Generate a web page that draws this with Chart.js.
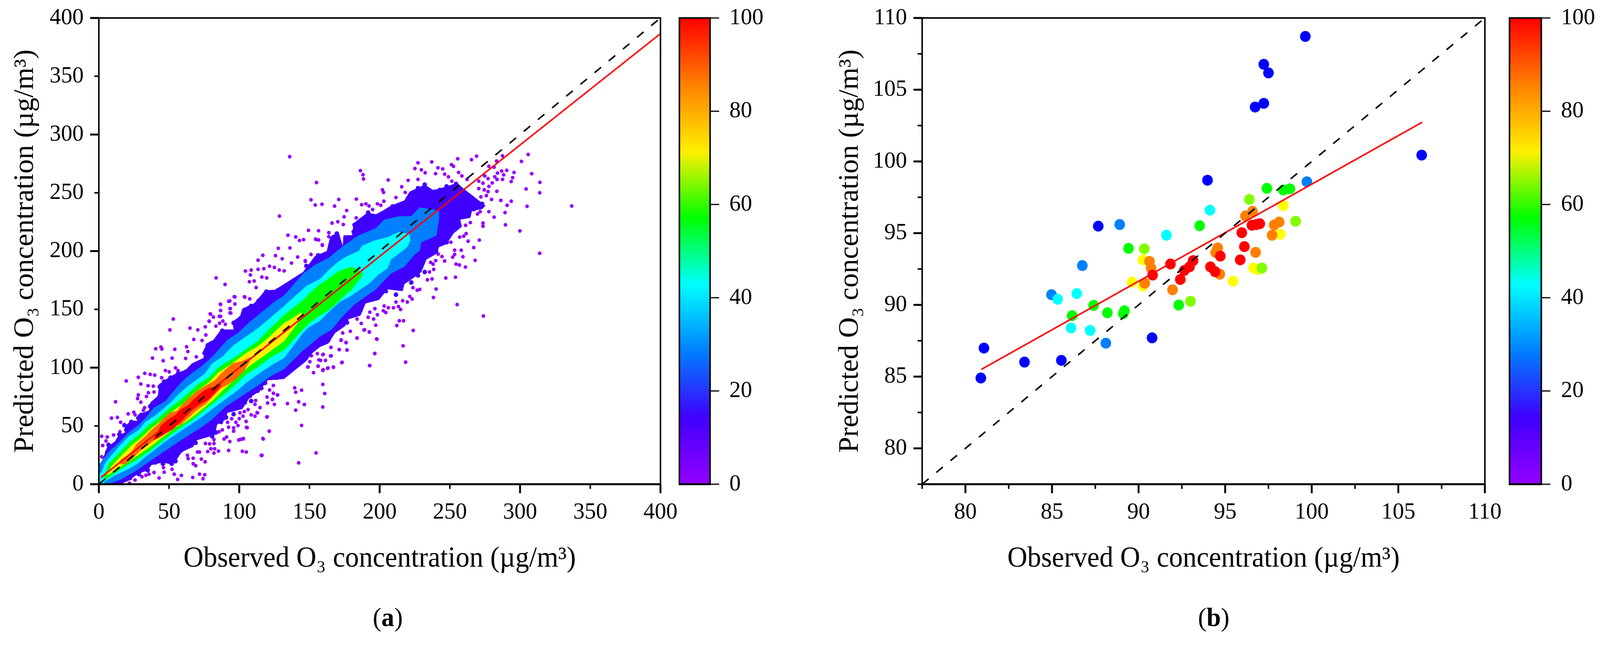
<!DOCTYPE html>
<html>
<head>
<meta charset="utf-8">
<script src="https://cdn.jsdelivr.net/npm/chart.js@4/dist/chart.umd.min.js"></script>
<style>
  html, body { margin: 0; padding: 0; background: #fff; overflow: hidden; }
  #page { position: relative; width: 4225px; height: 1653px; overflow: hidden; transform-origin: 0 0; }
  canvas { position: absolute; }
  .panel { position: absolute; top: 1540px; width: 200px; text-align: center;
           font: 68px "Liberation Serif", serif; color: #000; }
</style>
</head>
<body>
<div id="page">
  <canvas id="chartA" width="1790" height="1653" style="left:0;top:0"></canvas>
  <canvas id="barA" width="280" height="1653" style="left:1780px;top:0"></canvas>
  <canvas id="chartB" width="1990" height="1653" style="left:1975px;top:0"></canvas>
  <canvas id="barB" width="255" height="1653" style="left:3970px;top:0"></canvas>
  <div class="panel" style="left:924px">(<b>a</b>)</div>
  <div class="panel" style="left:3105px">(<b>b</b>)</div>
</div>
<script>
// window can come up narrower than the 4225 wide layout, squeeze to fit
document.getElementById('page').style.transform = 'scale(' + Math.min(1, innerWidth / 4225) + ',' + Math.min(1, innerHeight / 1653) + ')';

// ---- colour bar
const cbarStops = [0, 14.3, 28.6, 42.9, 57.1, 71.4, 85.7, 100];
const cbarColors = ['#9400ff', '#4000ff', '#0080ff', '#00ffff', '#00ff00', '#fff000', '#ff8000', '#ff0000'];
const cbarTicks = [0, 20, 40, 60, 80, 100];

// ---- panel a: density regions, [observed, predicted]
const bandIndigo = [[0,17],[1.5,17.6],[6,32.1],[11.4,36.6],[14.1,42.2],[18.6,44.4],[18.6,50],[23.1,54.5],[27.6,54.5],[27.6,59.5],[35.7,63.4],[36.6,70.1],[42,75.7],[42.9,85.8],[51,92.5],[56.4,95.9],[61.8,98.1],[66.3,103.7],[74.4,108.2],[76.2,120.5],[81.6,123.8],[87,132.8],[96,132.8],[95,139.5],[100.5,144],[102.2,150.7],[110.4,155.1],[113,158.5],[118.4,166.3],[125.6,166.9],[145.4,182.1],[153.8,195.6],[162.3,200.1],[164.7,212],[170.7,216.6],[173.7,204.6],[174.3,213.6],[180.3,213.6],[181.5,224],[191.2,233],[197.2,231.5],[202,234.5],[208,239],[217.6,243.5],[221.3,251],[232.1,257],[238.1,252.5],[241.7,253.3],[247.7,255.5],[255,258.5],[261,252.5],[265.8,248],[270.6,243.5],[275.4,239],[273,236],[265.8,234.5],[264.6,228.5],[257.4,227],[258.6,221],[252.6,215],[247.7,206],[241.7,203],[241.7,198.6],[233.3,192.6],[229.7,182.1],[224.9,177.6],[217.6,171.6],[216.4,165.6],[205.6,167.1],[199.6,158.1],[190,155.1],[186.3,144.6],[177.9,141.6],[175.5,135.7],[168.3,129.7],[163.5,120.7],[157.4,117.7],[151.4,111.7],[147.8,105.7],[131.9,90.3],[120.2,89.1],[113.9,79.1],[107.6,74.6],[102.2,64.5],[91.5,61.2],[90.6,55.6],[84.3,51.1],[82.5,42.2],[69.9,37.7],[67.2,32.1],[59.1,27.6],[52.8,16.4],[45.6,18.7],[37.5,16.4],[34.8,12],[27.6,8.6],[21.3,3],[15,0],[0,0]];
const bandAzure = [[0,15],[0.6,17.6],[3.3,22],[6.9,27.6],[15,36.6],[21.3,44.4],[28.5,51.1],[33,56.7],[39.3,65.7],[47.4,71.3],[51,76.8],[58.2,86.9],[64.5,93.6],[73.5,101.5],[80.7,109.3],[91.5,123.8],[98.7,129.4],[107.6,139.5],[115.7,147.3],[124.7,156.3],[131.9,161.9],[145.4,180.6],[153.8,188.1],[163.5,194.1],[174.3,204.6],[185.1,213.6],[197.2,219.6],[203.2,227],[214,230],[222.5,230],[228.5,237.5],[236.9,236],[242.3,234.5],[242.3,227],[240.5,213.6],[238.1,212],[229.7,207.6],[228.5,200],[224.9,197],[217.6,186.6],[208,180.6],[203.2,174.6],[197.2,167],[190,161],[181.5,153.6],[173.1,143.2],[165.9,132.7],[157.4,126.7],[150.2,119.2],[145.4,114.7],[131.9,98.7],[122.9,93],[113.9,85.2],[107.6,80.2],[97.8,72.4],[90.6,66.8],[80.7,55.6],[71.7,47.8],[62.7,41],[52.8,33.2],[42,24.3],[33,17],[25.8,10.9],[15.9,4.1],[6.9,0],[0,0]];
const bandCyan = [[0,8],[2,10.9],[4.7,18.7],[8.7,24.3],[14.1,32.1],[21.3,41.1],[28.5,46.6],[33,53.4],[40.2,59],[45.6,64.5],[51,70.1],[56.4,76.8],[62.7,83.6],[69,89.1],[75.3,94.7],[80.7,103.7],[87.9,109.3],[96,119.4],[104,126.1],[112.1,132.8],[121.1,141.7],[131.9,152.9],[147.8,170.1],[157.4,176.1],[163.5,183.6],[170.7,191.1],[176.7,195.6],[185.1,200.1],[187.5,204.6],[196,209],[205.6,212],[214,216.6],[221.3,214.3],[221.9,209],[219.4,203],[212.8,197],[208,192.6],[205.6,185.1],[198.4,179.1],[193.6,173.1],[186.3,167.1],[179.1,161.1],[171.9,156.6],[163.5,147.6],[157.4,140.1],[149,134.2],[145.4,129.7],[131.9,108.2],[122.9,102],[113.9,94.7],[104.9,86.9],[98.7,80.2],[91.5,74],[83.4,66.8],[74.4,58.4],[65.4,51.1],[58.2,45.5],[47.4,36.6],[42,31.5],[33,23.2],[27.6,17.6],[19.5,12],[11.4,7.5],[5.1,3],[2.4,0],[0,0]];
const bandGreen = [[3.8,6.4],[6.9,17.6],[10.5,22],[15.9,28.7],[22.2,36.6],[29.4,43.3],[34.8,50],[40.2,54.5],[45.6,60.1],[51.9,66.8],[58.2,72.4],[64.5,79.1],[70.8,85.8],[78,91.4],[85.2,100.3],[92.4,105.9],[98.7,110.4],[104.9,116],[113.1,122.7],[120.2,131.7],[131.9,145.1],[145.4,158],[150.2,164.1],[157.4,171.6],[163.5,176.1],[166.5,179.1],[171.9,183.6],[180.3,186.6],[187.5,182.1],[188.1,179.1],[183.9,173.1],[180.3,167.1],[174.3,161.1],[169.5,155.1],[163.5,149.1],[157.4,144.6],[150.2,138.6],[145.4,132.7],[131.9,114.9],[122.9,109.3],[113.1,100.3],[104.9,94.2],[98.7,86.9],[91.5,79.1],[83.4,71.3],[75.3,63.4],[67.2,55.6],[60,50],[51,42.2],[43.8,35.5],[36.6,28.7],[28.5,22],[20.4,16.4],[13.2,10.9],[6.9,5.8],[4.2,3.6]];
const bandYellow = [[5.1,8.6],[10.5,17.6],[16.8,25.4],[23.1,33.2],[30.3,39.9],[36.6,47.2],[42,52.2],[48.3,58.4],[54.6,64.5],[60,69],[66.3,76.8],[72.6,82.4],[78,86.9],[85.2,95.9],[92.4,101.5],[98.7,107],[104.9,112.6],[113.1,118.2],[121.1,126.1],[131.9,138.4],[136,141],[144.4,147.8],[144.4,142.5],[141.6,138],[131.9,122.7],[125.6,117.1],[116.6,109.3],[108.5,102.6],[102.2,95.9],[94.2,86.9],[87,79.1],[81.6,72.4],[76.2,66.8],[68.1,58.9],[61.8,53.4],[54.6,48.9],[51,45.5],[43.8,38.8],[36.6,32.1],[28.5,25.4],[20.4,18.7],[13.2,13.6],[6.9,8.1]];
const bandOrange = [[15.5,20.9],[20.4,24.8],[24,28.7],[26.7,34.3],[33,41.1],[36.6,45.5],[42.9,52.2],[50.1,61.2],[55.5,62.9],[58.2,66.8],[63.6,73.5],[69,79.1],[76.2,84.7],[82.5,89.1],[87.9,95.9],[95.1,103.7],[101.3,105.4],[107.6,108.7],[107.6,105.9],[104,98.1],[97.8,90.3],[92.4,85.8],[87,82.4],[82.5,76.8],[76.2,69],[69,62.9],[63.6,56.7],[58.2,51.1],[54.6,50],[47.4,43.8],[42,39.9],[35.7,34.3],[29.4,28.7],[24,22],[18.6,17],[15.5,17]];
const bandRed = [[38.8,38.8],[42,44.4],[43.8,50],[49.2,55.6],[54.6,59.5],[58.2,64],[63.6,67.9],[68.1,73.5],[73.5,79.1],[78,82.4],[83.4,84.1],[87,86.9],[87,84.1],[83.4,79.1],[78,72.4],[72.6,69],[66.3,63.4],[61.8,57.8],[57.3,52.2],[52.8,47.2],[47.4,43.3],[42.9,39.9],[38.8,37.7]];
// lumps along the rim of the indigo region
const rimIndigo = [[6.9,33.8],[8.3,30.4],[6,27.6],[14.6,42.7],[16.4,41.1],[19.5,46.6],[18.2,50.6],[23.1,53.4],[25.4,51.1],[28.1,56.7],[30.3,59.5],[37.9,67.9],[40.2,70.1],[36.6,66.8],[42.9,74.6],[43.4,83.6],[44.7,80.2],[46.5,88],[51,91.4],[54.6,86.9],[50.1,82.4],[56.4,94.7],[61.8,96.4],[64.5,98.1],[76.2,114.9],[78.4,118.2],[75.3,112.6],[81.6,119.4],[83.4,122.7],[87.9,131.7],[92.4,130.5],[96,138.4],[98.7,135],[101.3,142.8],[104.9,148.4],[108.5,152.9],[113.9,157.4],[119.3,165.2],[122.9,164.1],[127.4,166.3],
[126.5,91.4],[122.9,92.5],[118.4,86.9],[115.7,82.4],[113.1,80.2],[107.6,75.7],[108.5,71.3],[104,70.1],[98.7,65.7],[96,60.1],[90.6,57.3],[87,53.4],[82.5,51.1],[83.4,44.4],[76.2,46.6],[80.7,41.1],[71.7,41],[68.9,35.5],[65.4,33.2],[65.4,38.8],[55.5,31],[58.2,28.7],[53.7,23.2],[54.6,19.8],[51.9,17.6],[44.7,22],[40.2,18.7],[45.6,17.6],[34.8,15.3],[34.8,12],[28.5,8.6],[22.2,5.3],[15.9,1.9],
[147.8,187.3],[156.2,196.3],[164.7,203],[167.1,212],[169.5,215],[175.5,210.6],[181.5,216.6],[182.1,222.5],[191.8,233],[196,230],[200.8,230],[209.2,238.3],[220,245],[227.3,254],[232.1,257],[239.3,251],[242.9,252.5],[247.7,255.5],[254.4,257.7],[257.4,248],[264.6,243.5],[268.2,242],[273,240.5],
[267,236],[261,233],[255,227],[256.2,222.5],[251.4,216.6],[247.7,207.6],[240.5,203],[236.9,200],[229.7,194],[228.5,188],[232.1,182.1],[227.3,179.1],[220,177.6],[222.5,173.1],[214,170.1],[211.6,162.6],[204.4,165.6],[197.2,159.6],[192.4,158.1],[186.3,149.1],[180.3,146.2],[176.7,138.7],[167.1,131.2],[163.5,123.7],[159.8,122.2],[152.6,116.2],[147.8,108.7]];
const outliersA = [[53,141.7],[50.6,132.4],[64.9,133.9],[70.5,132.4],[75.8,135],[79.3,146.2],[81.6,143.4],[86.7,154.2],[86.7,149],[86.7,144],[93.3,157.2],[96.9,160.7],[96.9,154.6],[93.7,150.7],[94,146.8],[104,160.5],[107.5,159],[78.7,139.7],[86,138.1],[88.3,140],[90.1,137.2],[83.4,135.6],[76.2,128],[67.6,124.2],[73.5,123.3],[62.5,117.9],[54.1,115.7],[63.4,113.8],[40.5,116.2],[44.2,117.7],[44.9,116],[38.2,108.2],[52.2,108.2],[61.8,107.9],[45.8,105.9],[69.4,109.3],[19.5,88.6],[28.1,91.7],[32.7,95.1],[36.6,94.2],[39.8,93.6],[29.9,86],[35,84.5],[38.8,84.1],[47.4,97.5],[50.1,96.4],[54.6,99.8],[56.4,97.5],[44.7,91.4],[35.3,78.5],[39.3,79.1],[33.9,75.2],[28.1,76.6],[27.6,73.5],[29.9,70.4],[11.9,70.7],[32.6,65.7],[31.7,63.4],[24.9,61.7],[25.8,59.5],[20.9,60.3],[9,56.7],[13.2,57.3],[15.5,53.1],[18,50.6],[15,45],[10.5,42.2],[2,41.1],[6,40.5],[5.1,37.1],[2.7,33.2],[2,23.5],
[121.4,45.5],[117.1,38.8],[119.9,57.8],[113,61.2],[108.5,59.5],[111.2,58.4],[114.8,65.7],[120.2,69.6],[125,68.5],[119.8,74.8],[123.6,72.6],[121.6,80.8],[124.3,84.7],[127.4,76.6],[124.3,78],[111.7,71.8],[111.2,68.5],[106.3,64],[103.6,62.3],[100.5,61.2],[102.7,58.4],[100,56.2],[94.6,56.2],[97.6,53.1],[91.7,53.1],[104.9,53.9],[99.1,50.3],[105.7,48.5],[96,48.3],[92.4,48.9],[96,45.5],[87.9,46.6],[85.6,45],[91,40.5],[89.2,38.8],[93.3,36.6],[99.6,37.9],[102.7,38.8],[82,38.3],[75.9,34.9],[78.9,34.6],[82,34.9],[79.8,30.4],[82.5,30.4],[85.2,28.4],[92.4,29],[102.2,28.2],[105,27.6],[116.2,24.8],[77.5,28],[82,26.7],[70.3,27.6],[71.7,27.6],[63.1,24.8],[63.6,22],[67.2,22.3],[73,21.5],[75.7,19.2],[67.2,17.6],[69,15.9],[46,14.2],[52.1,12.8],[39.3,10.1],[46.5,10.3],[53.7,8.6],[58.8,7.5],[35.7,8.6],[33.5,7.7],[30.7,6.4],[71.7,8.6],[75.4,8.1],[66.9,5.8],[74.2,4.7],[56.1,4.1],[42.9,5.3],[25.8,3.6],[21.8,0.8],
[155,258.8],[186.3,269],[188.1,265.5],[188.5,261.9],[206.1,261],[151.1,244],[154.1,239.5],[158.9,240.2],[167.9,238.6],[170.9,244.3],[183.4,244.6],[187.2,239.8],[190.2,240.5],[176.5,234.8],[174.7,229.4],[166.1,224],[170.2,225.2],[174.1,222.8],[149.3,217.8],[156.5,217.5],[163.8,215.8],[163.8,212.4],[154.4,210.3],[156.6,209.5],[159.2,204.9],[145.8,209.8],[151.1,197.1],[147,191.8],[183.3,228.5],[202,252.5],[202.8,250.3],[203,242.8],[198.4,240.5],[200.8,239.3],[192.4,238.7],[195,235.6],[211.6,246],[215.7,255.2],[220.3,260.7],[218.2,250.3],[227.3,275.7],[225.1,270.8],[229.7,269.7],[232.4,267.2],[227.3,261.5],[232.1,257.4],[239.8,266.4],[237.1,276.5],[241.5,271.5],[244.9,270.5],[246.3,266],[249,263.7],[251.1,274.2],[252.6,272.7],[255.6,279.2],[265.4,278.4],[269,281.4],[256.2,267.5],[258.6,264.5],[262.2,261.5],[251.4,260],[277.8,272.7],[283.3,277.2],[281.5,272],[287.5,281.7],[305.8,282.9],[301,276.9],[308.3,266.4],[290.5,269.3],[286.9,268.7],[283.9,266.9],[288.3,265.4],[282,263.7],[283.6,261.5],[287.5,261.5],[295.7,267.5],[294.7,263],[293.7,259.7],[314.1,259],[304.3,253.3],[314,250],[274.8,264.5],[277.2,262.2],[270.6,260],[273.6,258.2],[280.2,258.5],[277.8,255.5],[270.6,253.6],[274.5,252.5],[283.5,251.3],[277.2,251],[276,247.6],[279.7,244.3],[272.1,246.5],[286.3,243.5],[293.7,242.8],[290.8,239.3],[305,238.4],[289.3,233],[281.5,229.1],[277.8,233.8],[271.6,233.8],[269.7,231.8],[273.6,224],[273.6,221.3],[264.6,224.5],[289.6,222.5],[299.9,217.3],[261.2,222.1],[261.6,215],[259.8,212.8],[257,212],[271,209.4],[263,208.5],[250.7,207.6],[267,203],[253.4,200.8],[258.1,200.7],[314,198.1],[241.7,197.4],[244.4,195.3],[253.4,197.1],[252,194.8],[259.3,195.1],[268,192.1],[246.3,191.5],[239.9,191.8],[236.3,190.3],[238.1,188.8],[254.4,188.8],[256.8,188.1],[261.1,186.3],[238.5,184.3],[235.5,182.1],[247.1,176.9],[254,177.6],[237.3,176.1],[234,175.4],[240.2,167.4],[228.5,167.1],[223.7,168.6],[226.7,166.4],[238.3,160.2],[255.2,154.1],[221.5,161.1],[223.1,158.9],[216.4,157.4],[219.7,156.3],[211.6,156.3],[203.2,152.9],[206.2,151.4],[209.8,151.4],[213.4,152.4],[214.9,149.9],[196.6,150.6],[202.6,148.8],[204.4,147.2],[193,147.6],[198.4,145.4],[273.9,144.3],[183.9,141.7],[191.8,143.2],[195.7,141.7],[214,140.2],[217,140.2],[186.9,137.9],[197.2,136.4],[212.2,136.1],[189.3,132.4],[192.7,130.7],[223.9,131.9],[179.1,131.2],[173.7,129.7],[183.9,125.5],[198.1,124.4],[172.5,123.4],[176.1,121.4],[216.7,118.7],[165.3,117.4],[171.2,115.4],[176.8,115.1],[196.6,112.1],[155.6,112],[159.8,111.4],[165.5,110.2],[151.4,110.2],[158,106.2],[161.4,106.2],[173.3,104.6],[218.5,104.7],[193,101.7],[156.2,101.2],[167.1,100.5],[163.2,99.7],[149,100.5],[159.8,98.2],
[83.5,177],[89.9,171.4],[104.4,182.9],[108.5,183.7],[113.4,184.4],[117.5,184.9],[121.6,187],[125,186],[128.5,183.7],[132,183],[127.8,202.4],[136.1,202.7],[134.7,213.6],[140.2,212.1],[142.9,209.1],[154.7,209.9],[159.1,205.4],[116.8,196.4],[113.4,192.2],[125.8,196.1],[130.6,193.4],[141.6,194.9],[137.2,189.7],[147.1,191.2],[107.9,179.5],[116.1,177.7],[119.6,177],[107.2,173.7],[110.6,174.3],[112,168.7],[96.4,160.8],[103.7,160.8],[86.5,154.5],[92.5,157],[79.6,145.8],[85.8,144],[78.5,140],[93.4,150.7],[93.4,147],[135.9,281],[336.8,238.7],[128.6,230],
[192.8,101.8],[196.4,112.1],[197.8,124.6],[183.9,125.3],[188.8,132.3],[192.6,130.5],[173,104.3],[176.7,115.1],[171.2,115.6],[165,110],[159.5,111.1],[167.1,100.3],[162.9,99.4],[159.5,97.6],[152.9,95.7],[148.8,100.6],[156.1,101.3],[156.7,106.6],[150.3,105.1],[172.6,123.8],[176,121.6],[159.5,85.6],[160.9,77.8],[159.5,66.2],[144.4,80.7],[140.2,78.9],[134.3,69.2],[142.3,70.7],[146.4,68.4],[140.2,63.5],[144.4,50.4],[154.7,26.8],[142.3,18.3],[115.7,24.7],[121.3,45.5],[116.8,39.2],[101,38.5],[103,39.2],[105.1,48.7],[119.6,57.6],[112.7,61.4],[127.1,76.6],[123.7,72.9],[139.5,82.6]];
const fitLineA = [[1.5, 5.8], [400, 386.6]];
const oneToOneA = [[0, 0], [400, 400]];

// ---- panel b: scatter, grouped by the colour of the dot
const blueB = [[80.89,84.9],[81.07,86.99],[83.41,86.01],[85.54,86.13],[87.67,95.49],[90.78,87.7],[93.98,98.69],[96.73,103.79],[97.23,104.05],[97.23,106.77],[97.5,106.17],[99.63,108.71],[106.35,100.44]];
const azureB = [[84.97,90.71],[86.75,92.74],[88.91,95.6],[88.11,87.33],[99.72,98.58]];
const cyanB = [[85.33,90.39],[86.43,90.79],[86.1,88.39],[87.2,88.22],[91.61,94.86],[94.12,96.6]];
const greenB = [[87.4,89.96],[86.16,89.25],[88.2,89.45],[89.18,89.59],[89.12,89.39],[89.42,93.94],[93.53,95.52],[92.32,89.99],[97.41,98.12],[98.36,98.01],[98.74,98.09]];
const limeB = [[90.33,93.91],[93,90.25],[97.12,92.57],[96.4,97.35],[99.07,95.83]];
const yellowB = [[90.25,93.14],[89.62,91.59],[90.25,91.31],[95.46,91.65],[96.64,92.57],[96.91,92.45],[98.18,94.92],[98.36,96.92]];
const orangeB = [[90.63,93.03],[90.72,92.57],[90.36,91.51],[91.96,91.05],[94.45,93.66],[94.57,93.97],[94.69,92.14],[96.76,93.66],[96.17,96.2],[96.58,96.52],[97.71,94.86],[97.83,95.57],[98.12,95.77]];
const redB = [[90.81,92.08],[91.84,92.85],[92.41,91.77],[92.64,92.4],[92.94,92.65],[93.15,93.08],[94.15,92.65],[94.42,92.31],[94.72,93.4],[95.87,93.14],[96.11,94.06],[95.96,95.03],[96.55,95.55],[97,95.66],[96.8,95.6]];
const fitLineB = [[80.92, 85.5], [106.38, 102.73]];
const oneToOneB = [[77.5, 77.5], [110, 110]];

const xTitle = 'Observed O\u2083 concentration (\u00b5g/m\u00b3)';
const yTitle = 'Predicted O\u2083 concentration (\u00b5g/m\u00b3)';

const serif = '"Liberation Serif", "Times New Roman", serif';
const tickFont = { family: serif, size: 60 };
const titleFont = { family: serif, size: 73 };
const xy = p => ({ x: p[0], y: p[1] });

// ticks and box drawn by hand because Chart.js has one tick length per axis
const framePlugin = {
  id: 'frame',
  afterDatasetsDraw(chart, args, opts) {
    const { ctx, chartArea: a } = chart;
    ctx.save();
    ctx.strokeStyle = '#000';
    ctx.lineCap = 'butt';
    (opts.ticks || []).forEach(t => {
      const scale = chart.scales[t.axis];
      scale.ticks.forEach(tk => {
        const major = Math.abs(tk.value / t.major - Math.round(tk.value / t.major)) < 1e-6;
        const len = major ? t.long : t.short;
        const p = scale.getPixelForValue(tk.value);
        ctx.lineWidth = major ? t.width : t.width * 0.8;
        ctx.beginPath();
        if (t.axis === 'x') { ctx.moveTo(p, a.bottom); ctx.lineTo(p, a.bottom + len); }
        else if (t.side === 'right') { ctx.moveTo(a.right, p); ctx.lineTo(a.right + len, p); }
        else { ctx.moveTo(a.left, p); ctx.lineTo(a.left - len, p); }
        ctx.stroke();
      });
    });
    ctx.lineWidth = 4;
    ctx.strokeRect(a.left, a.top, a.right - a.left, a.bottom - a.top);
    ctx.lineWidth = 5;
    ctx.beginPath();
    ctx.moveTo(a.left - 2, a.bottom);
    ctx.lineTo(a.right + 2, a.bottom);
    ctx.stroke();
    ctx.restore();
  }
};

function fixBox(w, h) {
  return s => {
    if (w !== null) s.width = w;
    if (h !== null) s.height = h;
    s.paddingLeft = s.paddingRight = s.paddingTop = s.paddingBottom = 0;
  };
}

function scatterChart(id, datasets, min, max, step, major, labelFn, right, left, titlePad) {
  return new Chart(document.getElementById(id), {
    type: 'scatter',
    data: { datasets },
    options: {
      responsive: false,
      animation: false,
      devicePixelRatio: 1,
      layout: { padding: { left: 0, right: right, top: 46, bottom: 178 } },
      plugins: {
        legend: { display: false },
        tooltip: { enabled: false },
        frame: { ticks: [
          { axis: 'x', major, long: 23, short: 12, width: 5 },
          { axis: 'y', major, long: 23, short: 12, width: 5 }
        ] }
      },
      scales: {
        x: {
          type: 'linear', min, max,
          grid: { display: false, drawTicks: false },
          border: { display: false },
          ticks: { stepSize: step, autoSkip: false, maxRotation: 0, padding: 36, font: tickFont, color: '#000', callback: labelFn },
          title: { display: true, text: xTitle, font: titleFont, color: '#000', padding: 0 },
          afterFit: fixBox(null, 236)
        },
        y: {
          type: 'linear', min, max,
          grid: { display: false, drawTicks: false },
          border: { display: false },
          ticks: { stepSize: step, autoSkip: false, padding: 40, font: tickFont, color: '#000', callback: labelFn },
          title: { display: true, text: yTitle, font: titleFont, color: '#000', padding: { top: titlePad, bottom: 0 } },
          afterFit: fixBox(left, null)
        }
      }
    },
    plugins: [framePlugin]
  });
}

function lineSet(points, color, width, dash) {
  return { data: points.map(xy), showLine: true, borderColor: color, borderWidth: width,
           borderDash: dash || [], pointRadius: 0, tension: 0, fill: false };
}
function bandSet(points, color) {
  return { data: points.map(xy), showLine: true, borderWidth: 0, borderColor: color,
           backgroundColor: color, pointRadius: 0, tension: 0, fill: 'shape' };
}
function dotSet(points, color, radius) {
  return { data: points.map(xy), showLine: false, pointRadius: radius, pointHoverRadius: radius,
           pointBackgroundColor: color, pointBorderWidth: 0 };
}

// first dataset is painted last
scatterChart('chartA', [
  lineSet(oneToOneA, '#000', 4, [22, 26]),
  lineSet(fitLineA, '#ff0000', 4),
  bandSet(bandRed, '#ff0000'),
  bandSet(bandOrange, '#ff6a00'),
  bandSet(bandYellow, '#ffee00'),
  bandSet(bandGreen, '#00ff00'),
  bandSet(bandCyan, '#00ffff'),
  bandSet(bandAzure, '#0080ff'),
  bandSet(bandIndigo, '#4000ff'),
  dotSet(rimIndigo, '#4000ff', 6),
  dotSet(outliersA, '#9400ff', 4.8)
], 0, 400, 50, 100, v => String(v), 46, 261, 24);

const labelB = v => (v % 5 === 0 ? String(v) : '');
scatterChart('chartB', [
  lineSet(oneToOneB, '#000', 4, [22, 26]),
  lineSet(fitLineB, '#ff0000', 4),
  dotSet(redB, '#ff0000', 14),
  dotSet(orangeB, '#ff8000', 14),
  dotSet(limeB, '#80ff00', 14),
  dotSet(greenB, '#00ff00', 14),
  dotSet(yellowB, '#ffff00', 14),
  dotSet(cyanB, '#00ffff', 14),
  dotSet(azureB, '#0080ff', 14),
  dotSet(blueB, '#0000ff', 14)
], 77.5, 110, 2.5, 5, labelB, 44, 460, 227);

function colorBar(id, left, rightW, pad) {
  return new Chart(document.getElementById(id), {
    type: 'bar',
    data: {
      labels: [''],
      datasets: [{
        data: [[0, 100]],
        barPercentage: 1,
        categoryPercentage: 1,
        backgroundColor(c) {
          const a = c.chart.chartArea;
          if (!a) return '#000';
          const g = c.chart.ctx.createLinearGradient(0, a.bottom, 0, a.top);
          cbarStops.forEach((s, i) => g.addColorStop(s / 100, cbarColors[i]));
          return g;
        }
      }]
    },
    options: {
      responsive: false,
      animation: false,
      devicePixelRatio: 1,
      layout: { padding: { left, right: 0, top: 46, bottom: 414 } },
      plugins: {
        legend: { display: false },
        tooltip: { enabled: false },
        frame: { ticks: [{ axis: 'y', side: 'right', major: 20, long: 24, short: 24, width: 3 }] }
      },
      scales: {
        x: { display: false },
        y: {
          position: 'right', min: 0, max: 100,
          afterBuildTicks: s => { s.ticks = cbarTicks.map(value => ({ value })); },
          grid: { display: false, drawTicks: false },
          border: { display: false },
          ticks: { padding: pad, font: tickFont, color: '#000', autoSkip: false },
          afterFit: fixBox(rightW, null)
        }
      }
    },
    plugins: [framePlugin]
  });
}
colorBar('barA', 14, 185, 51);
colorBar('barB', 16, 155, 52);
</script>
</body>
</html>
